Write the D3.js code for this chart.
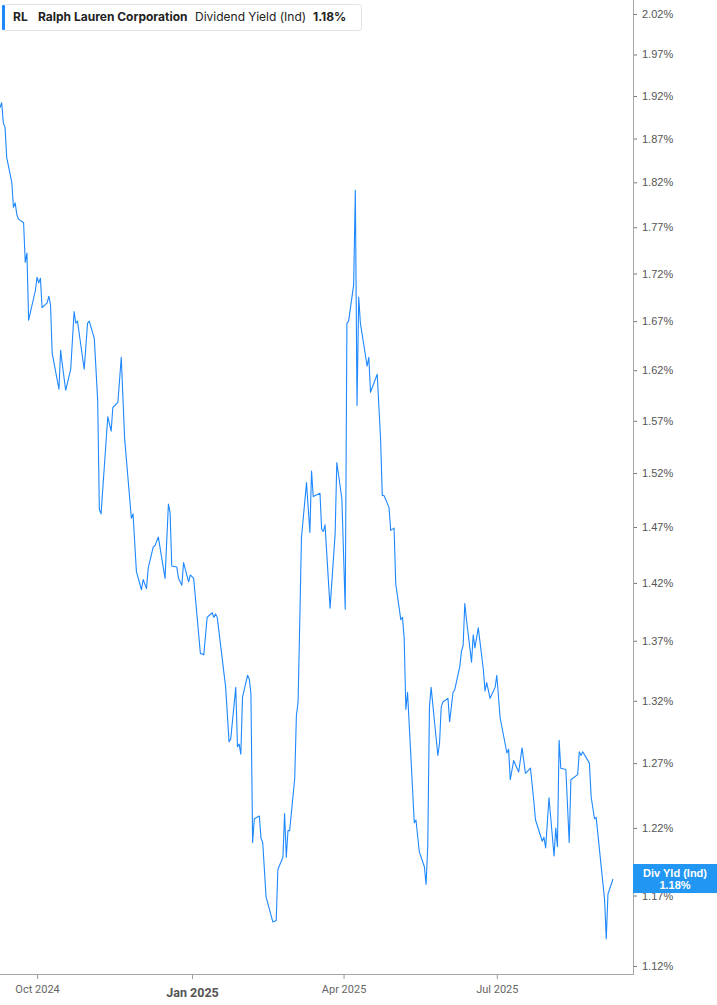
<!DOCTYPE html>
<html>
<head>
<meta charset="utf-8">
<script src="https://cdn.jsdelivr.net/npm/d3@7"></script>
<style>
  body { margin: 0; background: #fff; }
  #chart { width: 717px; height: 1005px; }
</style>
</head>
<body>
<div id="chart"></div>
<script>
const ticker = "RL";
const company = "Ralph Lauren Corporation";
const metric = "Dividend Yield (Ind)";
const lastLabel = "1.18%";

const divDates = [
  "2024-09-09","2024-09-10","2024-09-11","2024-09-12","2024-09-13","2024-09-16","2024-09-17","2024-09-18","2024-09-19","2024-09-20",
  "2024-09-23","2024-09-24","2024-09-25","2024-09-26","2024-09-30","2024-10-01","2024-10-02","2024-10-03","2024-10-04","2024-10-07",
  "2024-10-08","2024-10-09","2024-10-10","2024-10-14","2024-10-15","2024-10-16","2024-10-18","2024-10-21","2024-10-23","2024-10-24",
  "2024-10-25","2024-10-29","2024-10-31","2024-11-01","2024-11-04","2024-11-06","2024-11-07","2024-11-08","2024-11-12","2024-11-14",
  "2024-11-15","2024-11-18","2024-11-20","2024-11-22","2024-11-26","2024-11-27","2024-11-29","2024-12-02","2024-12-03","2024-12-05",
  "2024-12-06","2024-12-09","2024-12-10","2024-12-12","2024-12-16","2024-12-18","2024-12-19","2024-12-20","2024-12-23","2024-12-24",
  "2024-12-26","2024-12-27","2024-12-30","2024-12-31","2025-01-02","2025-01-06","2025-01-07","2025-01-08","2025-01-10","2025-01-13",
  "2025-01-14","2025-01-15","2025-01-16","2025-01-21","2025-01-23","2025-01-24","2025-01-27","2025-01-28","2025-01-29","2025-01-30",
  "2025-01-31","2025-02-03","2025-02-04","2025-02-05","2025-02-06","2025-02-07","2025-02-10","2025-02-11","2025-02-12","2025-02-14",
  "2025-02-18","2025-02-20","2025-02-21","2025-02-24","2025-02-25","2025-02-26","2025-02-27","2025-02-28","2025-03-03","2025-03-04",
  "2025-03-05","2025-03-06","2025-03-07","2025-03-10","2025-03-12","2025-03-13","2025-03-14","2025-03-18","2025-03-19","2025-03-20",
  "2025-03-21","2025-03-24","2025-03-27","2025-03-28","2025-03-31","2025-04-02","2025-04-03","2025-04-04","2025-04-07","2025-04-08",
  "2025-04-09","2025-04-10","2025-04-11","2025-04-15","2025-04-16","2025-04-17","2025-04-21","2025-04-23","2025-04-24","2025-04-25",
  "2025-04-28","2025-04-29","2025-05-01","2025-05-02","2025-05-05","2025-05-06","2025-05-07","2025-05-08","2025-05-09","2025-05-13",
  "2025-05-14","2025-05-16","2025-05-19","2025-05-20","2025-05-21","2025-05-22","2025-05-23","2025-05-27","2025-05-28","2025-05-29",
  "2025-05-30","2025-06-02","2025-06-03","2025-06-05","2025-06-06","2025-06-09","2025-06-10","2025-06-11","2025-06-12","2025-06-13",
  "2025-06-16","2025-06-17","2025-06-18","2025-06-20","2025-06-23","2025-06-24","2025-06-25","2025-06-27","2025-06-30","2025-07-01",
  "2025-07-03","2025-07-07","2025-07-08","2025-07-09","2025-07-11","2025-07-14","2025-07-16","2025-07-18","2025-07-21","2025-07-23",
  "2025-07-24","2025-07-28","2025-07-29","2025-07-30","2025-08-01","2025-08-04","2025-08-05","2025-08-06","2025-08-07","2025-08-08",
  "2025-08-11","2025-08-13","2025-08-14","2025-08-18","2025-08-19","2025-08-20","2025-08-21","2025-08-25","2025-08-26","2025-08-28",
  "2025-08-29","2025-09-03","2025-09-04","2025-09-05","2025-09-08"
];

const divYield = [
  1.906,1.912,1.888,1.883,1.848,1.820,1.792,1.797,1.784,1.779,
  1.775,1.732,1.742,1.671,1.702,1.716,1.710,1.715,1.684,1.689,
  1.696,1.687,1.637,1.601,1.640,1.626,1.600,1.621,1.680,1.668,
  1.670,1.621,1.668,1.670,1.652,1.590,1.486,1.482,1.574,1.560,
  1.583,1.588,1.633,1.553,1.478,1.482,1.430,1.414,1.423,1.415,
  1.433,1.452,1.453,1.461,1.424,1.491,1.483,1.435,1.434,1.424,
  1.418,1.438,1.421,1.427,1.424,1.359,1.359,1.358,1.390,1.394,
  1.390,1.393,1.390,1.331,1.287,1.289,1.331,1.283,1.285,1.277,
  1.323,1.341,1.338,1.326,1.209,1.227,1.229,1.212,1.209,1.169,
  1.151,1.152,1.189,1.198,1.231,1.198,1.218,1.218,1.258,1.308,
  1.319,1.386,1.460,1.511,1.465,1.522,1.498,1.501,1.468,1.466,
  1.472,1.398,1.464,1.530,1.496,1.397,1.668,1.670,1.708,1.811,
  1.585,1.695,1.668,1.624,1.633,1.598,1.616,1.552,1.499,1.499,
  1.488,1.467,1.469,1.419,1.388,1.390,1.372,1.313,1.327,1.224,
  1.226,1.202,1.191,1.178,1.206,1.315,1.331,1.276,1.286,1.315,
  1.319,1.322,1.303,1.327,1.329,1.348,1.361,1.366,1.402,1.388,
  1.352,1.375,1.364,1.381,1.346,1.328,1.335,1.322,1.331,1.341,
  1.306,1.278,1.281,1.257,1.272,1.263,1.282,1.262,1.266,1.240,
  1.226,1.210,1.213,1.205,1.243,1.199,1.220,1.206,1.288,1.266,
  1.265,1.209,1.257,1.261,1.279,1.276,1.279,1.270,1.244,1.227,
  1.228,1.167,1.139,1.171,1.182
];

const yTicks = [1.12,1.17,1.22,1.27,1.32,1.37,1.42,1.47,1.52,1.57,1.62,1.67,1.72,1.77,1.82,1.87,1.92,1.97,2.02];
const xDomain = ["2024-09-09", "2025-09-08"];

const parse = d3.utcParse("%Y-%m-%d");
const data = divDates.map((d, i) => ({ date: parse(d), value: divYield[i] }));

const width = 717, height = 1005;
const plotRight = 633, plotBottom = 974;
const blue = "#1e88ff";

const svg = d3.select("#chart")
  .append("svg")
  .attr("width", width)
  .attr("height", height);

const x = d3.scaleUtc()
  .domain(xDomain.map(parse))
  .range([0, 613]);

const y = d3.scaleLog()
  .domain([1.12, 2.02])
  .range([966, 14]);

// frame lines
svg.append("line")
  .attr("x1", 0).attr("x2", plotRight)
  .attr("y1", plotBottom + 0.5).attr("y2", plotBottom + 0.5)
  .attr("stroke", "#a6a6a6");
svg.append("line")
  .attr("x1", plotRight + 0.5).attr("x2", plotRight + 0.5)
  .attr("y1", 0).attr("y2", plotBottom + 1)
  .attr("stroke", "#a6a6a6");

// y axis on the right
const yAxis = svg.append("g")
  .attr("transform", `translate(${plotRight + 1},0)`)
  .call(d3.axisRight(y).tickValues(yTicks).tickFormat(d => d3.format(".2f")(d) + "%").tickSize(3).tickPadding(5));
yAxis.select(".domain").remove();
yAxis.selectAll("line").attr("stroke", "#777");
yAxis.selectAll("text")
  .attr("fill", "#555")
  .style("font-family", "'Liberation Sans', Arial, sans-serif")
  .style("font-size", "11px");

// x axis
const xAxis = svg.append("g")
  .attr("transform", `translate(0,${plotBottom + 1})`)
  .call(d3.axisBottom(x).ticks(d3.utcMonth.every(3)).tickSize(4).tickPadding(6)
    .tickFormat(d => d3.utcFormat("%b %Y")(d)));
xAxis.select(".domain").remove();
xAxis.selectAll("line").attr("stroke", "#999");
xAxis.selectAll("text")
  .attr("fill", "#666")
  .style("font-family", "Roboto, 'Liberation Sans', sans-serif")
  .style("font-size", "11px");
xAxis.selectAll(".tick")
  .filter(d => d.getUTCMonth() === 0)
  .select("text")
  .attr("dy", "0.95em")
  .attr("fill", "#555")
  .style("font-weight", "bold")
  .style("font-size", "12.5px");

// line
const line = d3.line()
  .x(d => x(d.date))
  .y(d => y(d.value));

svg.append("path")
  .datum(data)
  .attr("fill", "none")
  .attr("stroke", blue)
  .attr("stroke-width", 1.1)
  .attr("stroke-linejoin", "round")
  .attr("d", line);

// last value flag
const last = data[data.length - 1];
const flagY = y(last.value) - 15;
const flag = svg.append("g").attr("transform", `translate(${plotRight},${flagY})`);
flag.append("rect")
  .attr("width", width - plotRight)
  .attr("height", 29)
  .attr("fill", "#2196f3");
flag.append("text")
  .attr("x", (width - plotRight) / 2)
  .attr("y", 13)
  .attr("text-anchor", "middle")
  .attr("fill", "#fff")
  .style("font-family", "'Liberation Sans', Arial, sans-serif")
  .style("font-size", "11px")
  .style("font-weight", "bold")
  .text("Div Yld (Ind)");
flag.append("text")
  .attr("x", (width - plotRight) / 2)
  .attr("y", 25)
  .attr("text-anchor", "middle")
  .attr("fill", "#fff")
  .style("font-family", "'Liberation Sans', Arial, sans-serif")
  .style("font-size", "11px")
  .style("font-weight", "bold")
  .text(d3.format(".2f")(last.value) + "%");

// legend
const legend = svg.append("g").attr("transform", "translate(2,4)");
legend.append("rect")
  .attr("x", 0.5).attr("y", 0.5)
  .attr("width", 359).attr("height", 26)
  .attr("rx", 3)
  .attr("fill", "#fff")
  .attr("stroke", "#e3e3e3");
legend.append("rect")
  .attr("x", 0).attr("y", 1)
  .attr("width", 3).attr("height", 25)
  .attr("rx", 1)
  .attr("fill", blue);

const legendText = legend.append("text")
  .attr("y", 17)
  .attr("fill", "#222")
  .style("font-family", "Inter, 'Noto Sans', sans-serif")
  .style("font-size", "12px");
legendText.append("tspan").attr("x", 11).style("font-weight", "bold").text(ticker);
legendText.append("tspan").attr("x", 36).style("font-weight", "bold").text(company);
legendText.append("tspan").attr("x", 193).style("font-weight", "normal").text(metric);
legendText.append("tspan").attr("x", 311).style("font-weight", "bold").text(lastLabel);
</script>
</body>
</html>
